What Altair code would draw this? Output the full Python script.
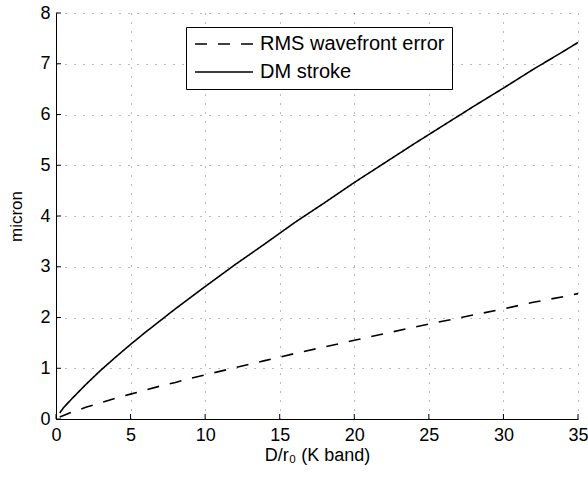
import altair as alt
import pandas as pd

# D/r0 sample positions
x_vals = [0.25, 0.5, 1, 2, 3, 4, 5, 6, 7, 8, 9, 10, 12, 14, 16, 18, 20, 22, 24, 26, 28, 30, 32, 34, 35]
dm_stroke = [0.12, 0.22, 0.38, 0.68, 0.96, 1.22, 1.47, 1.71, 1.94, 2.17, 2.39, 2.61, 3.04, 3.45, 3.87,
             4.26, 4.66, 5.04, 5.42, 5.79, 6.16, 6.52, 6.89, 7.24, 7.42]
rms_err = [0.04, 0.07, 0.13, 0.23, 0.32, 0.41, 0.49, 0.57, 0.65, 0.72, 0.80, 0.87, 1.01, 1.15, 1.29,
           1.42, 1.55, 1.68, 1.81, 1.93, 2.05, 2.17, 2.30, 2.41, 2.47]
series_names = ["RMS wavefront error", "DM stroke"]
x_ticks = [0, 5, 10, 15, 20, 25, 30, 35]
y_ticks = [0, 1, 2, 3, 4, 5, 6, 7, 8]

rows = []
for xv, r in zip(x_vals, rms_err):
    rows.append({"x": xv, "y": r, "series": series_names[0]})
for xv, d in zip(x_vals, dm_stroke):
    rows.append({"x": xv, "y": d, "series": series_names[1]})
df = pd.DataFrame(rows)

FONT = "Liberation Sans"
W, H = 522, 406

xscale = alt.Scale(domain=[0, 35], nice=False, zero=False)
yscale = alt.Scale(domain=[0, 8], nice=False)

lines = alt.Chart(df).mark_line(color="black", strokeWidth=1.6, strokeCap="butt").encode(
    x=alt.X("x:Q", scale=xscale,
            axis=alt.Axis(values=x_ticks, title="D/r₀ (K band)", ticks=False, labelPadding=7,
                          labelFlush=False, titleFontSize=18, titleBaseline="alphabetic",
                          titleY=41, format="d")),
    y=alt.Y("y:Q", scale=yscale,
            axis=alt.Axis(values=y_ticks, title="micron", ticks=False, labelPadding=6,
                          labelFlush=False, titlePadding=14, format="d")),
    strokeDash=alt.StrokeDash(
        "series:N",
        scale=alt.Scale(domain=series_names, range=[[12, 11], [1, 0]]),
        legend=alt.Legend(title=None, orient="none", legendX=130, legendY=14, direction="vertical",
                          symbolType="stroke", symbolSize=3364, symbolStrokeWidth=1.6,
                          symbolStrokeColor="black", padding=7, strokeColor="black",
                          fillColor="white", rowPadding=8, clipHeight=20, labelOffset=6,
                          symbolOffset=1, labelFontSize=20, labelFont=FONT, labelColor="black",
                          labelLimit=400),
    ),
)

xt = alt.Chart(pd.DataFrame({"x": x_ticks})).mark_rule(color="black", strokeWidth=1).encode(
    x=alt.X("x:Q", scale=xscale), y=alt.value(H), y2=alt.value(H - 5))
yt = alt.Chart(pd.DataFrame({"y": y_ticks})).mark_rule(color="black", strokeWidth=1).encode(
    y=alt.Y("y:Q", scale=yscale), x=alt.value(0), x2=alt.value(5))

chart = alt.layer(lines, xt, yt).properties(
    width=W, height=H, autosize="none",
    padding={"left": 56, "top": 13, "right": 10, "bottom": 63},
    background="white",
).configure_view(strokeWidth=0).configure_axis(
    labelFont=FONT, titleFont=FONT, labelFontSize=18, titleFontSize=17,
    labelColor="black", titleColor="black", titleFontWeight="normal",
    domainColor="black", domainWidth=1,
    gridColor="#000000", gridOpacity=0.55, gridDash=[1, 8], gridWidth=1,
)

chart.save("out.html", embed_options={"renderer": "svg", "actions": False})
